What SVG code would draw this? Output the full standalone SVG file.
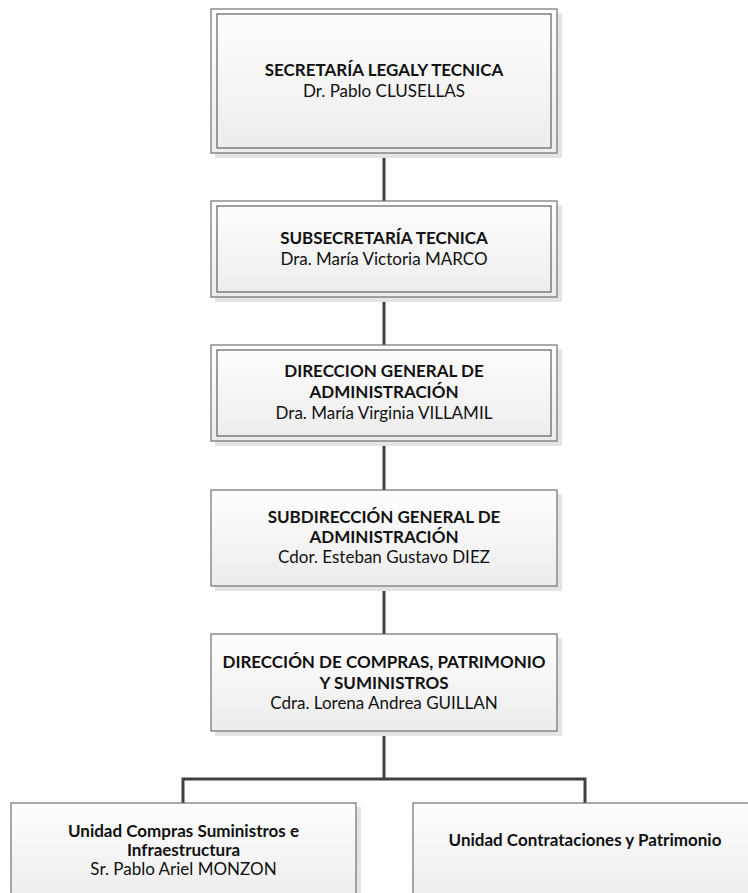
<svg xmlns="http://www.w3.org/2000/svg" width="748" height="893" viewBox="0 0 748 893">
  <defs>
    <linearGradient id="boxFill" x1="0" y1="0" x2="0" y2="1">
      <stop offset="0" stop-color="#fefefe"/>
      <stop offset="1" stop-color="#ececec"/>
    </linearGradient>
    <style>
      .shadow { fill: #e4e4e4; }
      .box { fill: url(#boxFill); stroke: #707070; stroke-width: 1.2; }
      .inner { fill: none; stroke: #606060; stroke-width: 1.2; }
      .link { fill: none; stroke: #404040; stroke-width: 3; }
      text { font-family: Lato, "Open Sans", sans-serif; font-size: 17px; fill: #111; text-anchor: middle; }
      .b { font-weight: bold; }
    </style>
  </defs>
  <rect width="748" height="893" fill="#ffffff"/>

  <!-- connectors -->
  <g id="connectors">
    <line class="link" x1="384" y1="153" x2="384" y2="201"/>
    <line class="link" x1="384" y1="297" x2="384" y2="345"/>
    <line class="link" x1="384" y1="441" x2="384" y2="490"/>
    <line class="link" x1="384" y1="586" x2="384" y2="634"/>
    <line class="link" x1="384" y1="731" x2="384" y2="779"/>
    <polyline class="link" points="183,803 183,779 585,779 585,803"/>
  </g>

  <!-- Secretaría Legal y Técnica -->
  <g id="secretaria">
    <rect class="shadow" x="215" y="13" width="347" height="145"/>
    <rect class="box" x="211" y="9" width="346" height="144"/>
    <rect class="inner" x="217" y="14" width="334" height="134"/>
    <text class="b" x="384" y="76">SECRETARÍA LEGALY TECNICA</text>
    <text x="384" y="97">Dr. Pablo CLUSELLAS</text>
  </g>

  <!-- Subsecretaría Técnica -->
  <g id="subsecretaria">
    <rect class="shadow" x="215" y="205" width="347" height="97"/>
    <rect class="box" x="211" y="201" width="346" height="96"/>
    <rect class="inner" x="217" y="206" width="334" height="86"/>
    <text class="b" x="384" y="244">SUBSECRETARÍA TECNICA</text>
    <text x="384" y="265">Dra. María Victoria MARCO</text>
  </g>

  <!-- Dirección General de Administración -->
  <g id="direccion-general">
    <rect class="shadow" x="215" y="349" width="347" height="97"/>
    <rect class="box" x="211" y="345" width="346" height="96"/>
    <rect class="inner" x="217" y="350" width="334" height="86"/>
    <text class="b" x="384" y="377">DIRECCION GENERAL DE</text>
    <text class="b" x="384" y="398">ADMINISTRACIÓN</text>
    <text x="384" y="419">Dra. María Virginia VILLAMIL</text>
  </g>

  <!-- Subdirección General de Administración -->
  <g id="subdireccion-general">
    <rect class="shadow" x="215" y="494" width="347" height="97"/>
    <rect class="box" x="211" y="490" width="346" height="96"/>
    <text class="b" x="384" y="523">SUBDIRECCIÓN GENERAL DE</text>
    <text class="b" x="384" y="543">ADMINISTRACIÓN</text>
    <text x="384" y="563">Cdor. Esteban Gustavo DIEZ</text>
  </g>

  <!-- Dirección de Compras, Patrimonio y Suministros -->
  <g id="direccion-compras">
    <rect class="shadow" x="215" y="638" width="347" height="98"/>
    <rect class="box" x="211" y="634" width="346" height="97"/>
    <text class="b" x="384" y="668">DIRECCIÓN DE COMPRAS, PATRIMONIO</text>
    <text class="b" x="384" y="689">Y SUMINISTROS</text>
    <text x="384" y="709">Cdra. Lorena Andrea GUILLAN</text>
  </g>

  <!-- Unidad Compras Suministros e Infraestructura -->
  <g id="unidad-compras">
    <rect class="shadow" x="15" y="807" width="346" height="100"/>
    <rect class="box" x="11" y="803" width="345" height="100"/>
    <text class="b" x="183.5" y="837">Unidad Compras Suministros e</text>
    <text class="b" x="183.5" y="856">Infraestructura</text>
    <text x="183.5" y="875">Sr. Pablo Ariel MONZON</text>
  </g>

  <!-- Unidad Contrataciones y Patrimonio -->
  <g id="unidad-contrataciones">
    <rect class="shadow" x="417" y="807" width="346" height="100"/>
    <rect class="box" x="413" y="803" width="345" height="100"/>
    <text class="b" x="585" y="846">Unidad Contrataciones y Patrimonio</text>
  </g>
</svg>
